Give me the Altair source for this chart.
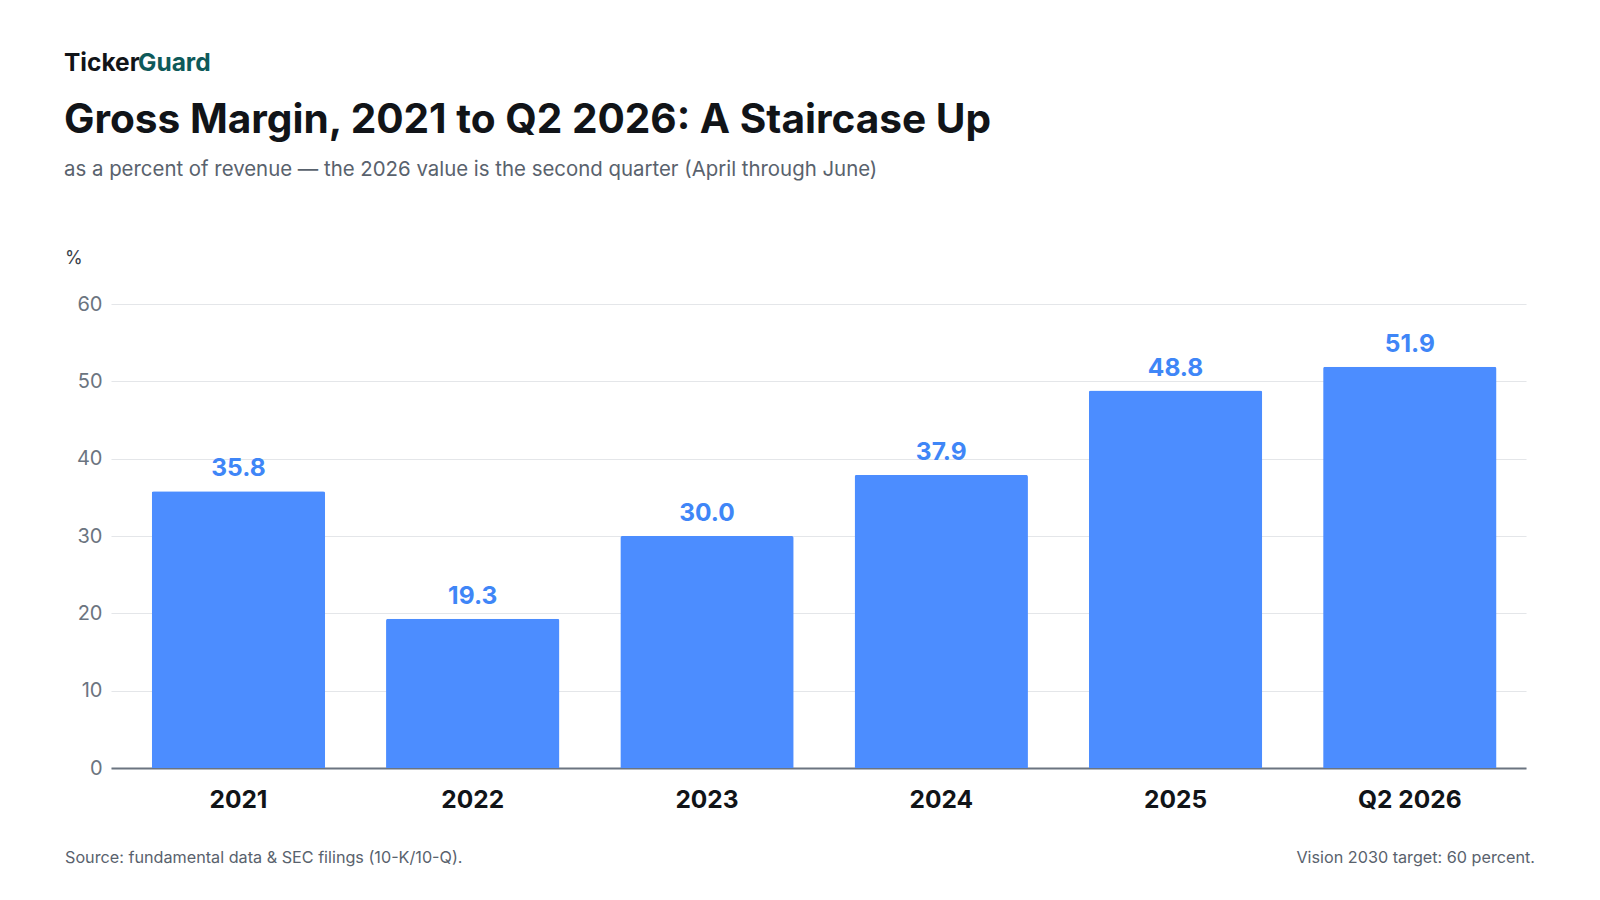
import altair as alt
import pandas as pd

categories = ["2021", "2022", "2023", "2024", "2025", "Q2 2026"]
margins = [35.8, 19.3, 30.0, 37.9, 48.8, 51.9]
y_ticks = [0, 10, 20, 30, 40, 50, 60]

df = pd.DataFrame({"period": categories, "margin": margins})
df["label"] = [f"{v:.1f}" for v in margins]

FONT = "Inter"
W, H = 1415, 464
BLUE = "#4C8DFF"
LABEL_BLUE = "#3F86F7"
GRAY = "#6B7480"
SUB = "#59626D"

base = alt.Chart(df)

x_enc = alt.X(
    "period:N",
    sort=categories,
    title=None,
    scale=alt.Scale(paddingInner=0.26, paddingOuter=0.15, align=0.58),
    axis=alt.Axis(
        labelAngle=0,
        labelFont=FONT,
        labelFontSize=24.5,
        labelFontWeight="bold",
        labelColor="#111418",
        labelPadding=20,
        ticks=False,
        domainColor=GRAY,
        domainWidth=2,
        grid=False,
    ),
)
y_enc = alt.Y(
    "margin:Q",
    title=None,
    scale=alt.Scale(domain=[0, 60], nice=False),
    axis=alt.Axis(
        values=y_ticks,
        labelFont=FONT,
        labelFontSize=20,
        labelColor=GRAY,
        labelPadding=9,
        ticks=False,
        domain=False,
        gridColor="#E4E6E9",
        gridWidth=1.2,
    ),
)

bars = base.mark_bar(color=BLUE, cornerRadiusTopLeft=2, cornerRadiusTopRight=2).encode(
    x=x_enc, y=y_enc
)
labels = base.mark_text(
    font=FONT, fontSize=24.5, fontWeight="bold", color=LABEL_BLUE, baseline="alphabetic", dy=-15
).encode(x=alt.X("period:N", sort=categories), y="margin:Q", text="label:N")


def txt(text, x, y, size, color, weight="normal", align="left"):
    return alt.Chart(pd.DataFrame({"t": [text]})).mark_text(
        font=FONT, fontSize=size, fontWeight=weight, color=color, align=align, baseline="alphabetic"
    ).encode(x=alt.value(x), y=alt.value(y), text="t:N")


annotations = [
    txt("Ticker", -47, -233, 24.5, "#111418", "bold"),
    txt("Guard", 27, -233, 24.5, "#0E5A5A", "bold"),
    txt("Gross Margin, 2021 to Q2 2026: A Staircase Up", -47, -171, 40.6, "#111418", "bold"),
    txt("as a percent of revenue \u2014 the 2026 value is the second quarter (April through June)", -47, -128, 20.4, SUB),
    txt("%", -46, -40, 18, "#3A4149"),
    txt("Source: fundamental data & SEC filings (10-K/10-Q).", -46, 559, 16.2, SUB),
    txt("Vision 2030 target: 60 percent.", 1424, 559, 16.2, SUB, align="right"),
]

chart = (
    alt.layer(bars, labels, *annotations)
    .properties(
        width=W,
        height=H,
        background="white",
        autosize=alt.AutoSizeParams(type="none"),
        padding={"left": 103, "top": 296, "right": 60, "bottom": 110},
    )
    .configure_view(strokeWidth=0, stroke="transparent")
)

chart.save("out.html", embed_options={"renderer": "svg", "actions": False})
